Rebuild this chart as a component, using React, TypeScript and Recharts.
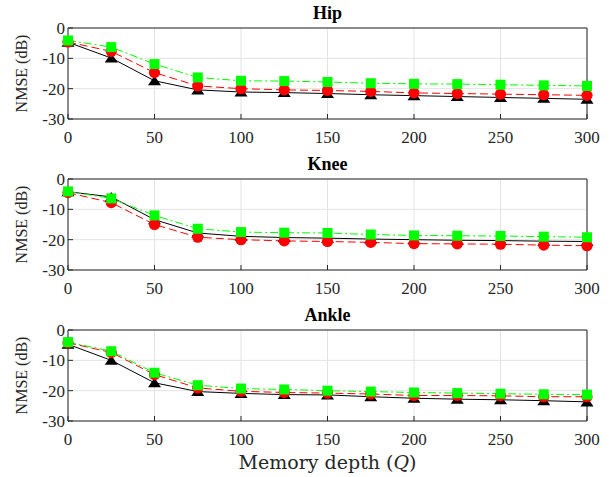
import React from "react";
import { LineChart, Line, XAxis, YAxis, CartesianGrid, ReferenceArea } from "recharts";

// memory depth Q
const depth = [0, 25, 50, 75, 100, 125, 150, 175, 200, 225, 250, 275, 300];
const xTicks = [0, 50, 100, 150, 200, 250, 300];
const yTicks = [-30, -20, -10, 0];

// NMSE (dB), solid black / dashed red / dash-dot green
const hipSolid = [-4.7, -9.9, -17.4, -20.4, -21.1, -21.3, -21.6, -22.0, -22.3, -22.6, -22.9, -23.2, -23.5];
const hipDashed = [-4.6, -7.7, -14.7, -19.1, -20.0, -20.4, -20.6, -20.9, -21.4, -21.6, -21.8, -22.0, -22.2];
const hipDashDot = [-4.1, -6.3, -11.9, -16.3, -17.4, -17.5, -17.8, -18.2, -18.4, -18.5, -18.7, -18.9, -19.1];

const kneeSolid = [-4.2, -5.9, -13.4, -17.8, -18.9, -19.3, -19.5, -19.8, -20.0, -20.2, -20.3, -20.5, -20.6];
const kneeDashed = [-4.5, -7.8, -15.0, -19.2, -20.0, -20.4, -20.6, -20.9, -21.3, -21.4, -21.5, -21.8, -22.0];
const kneeDashDot = [-4.1, -6.4, -12.0, -16.4, -17.5, -17.7, -17.8, -18.3, -18.6, -18.7, -18.8, -19.0, -19.2];

const ankleSolid = [-4.7, -10.0, -17.4, -20.3, -20.9, -21.3, -21.4, -22.0, -22.5, -22.8, -23.0, -23.3, -23.7];
const ankleDashed = [-4.2, -7.4, -14.7, -19.1, -20.2, -20.6, -20.8, -21.1, -21.6, -21.6, -21.7, -22.0, -22.0];
const ankleDashDot = [-4.0, -7.0, -14.1, -18.2, -19.3, -19.6, -20.0, -20.3, -20.6, -20.8, -21.0, -21.2, -21.3];

const FONT = '"Liberation Serif", "Times New Roman", serif';
const TXT = "#262626";

const Tri = (p: any) => {
  const { cx, cy, index } = p;
  if (cx == null || cy == null) return <g key={index} />;
  return <path key={index} d={`M${cx},${cy - 5} L${cx + 6.5},${cy + 4.5} L${cx - 6.5},${cy + 4.5} Z`} fill="#000" />;
};
const Dot = (p: any) => {
  const { cx, cy, index } = p;
  if (cx == null || cy == null) return <g key={index} />;
  return <circle key={index} cx={cx} cy={cy} r={5.6} fill="#ff0000" />;
};
const Sq = (p: any) => {
  const { cx, cy, index } = p;
  if (cx == null || cy == null) return <g key={index} />;
  return <rect key={index} x={cx - 5} y={cy - 5} width={10} height={10} fill="#00ff00" />;
};

function Panel({ title, top, solid, dashed, dashDot }: { title: string; top: number; solid: number[]; dashed: number[]; dashDot: number[] }) {
  const data = depth.map((q, i) => ({ q, solid: solid[i], dashed: dashed[i], dashDot: dashDot[i] }));
  return (
    <div style={{ position: "absolute", left: 0, top, width: 615, height: 150, fontFamily: FONT }}>
      <div style={{ position: "absolute", left: 68, width: 519, top: 2, textAlign: "center", fontWeight: "bold", fontSize: 18, color: "#000", lineHeight: "22px" }}>
        {title}
      </div>
      <LineChart width={615} height={150} data={data} margin={{ top: 28, right: 28, bottom: 0, left: 0 }} style={{ fontFamily: FONT }}>
        <CartesianGrid stroke="#e3e3e3" strokeWidth={1} />
        <XAxis
          dataKey="q"
          type="number"
          domain={[0, 300]}
          ticks={xTicks}
          height={31}
          axisLine={false}
          tickSize={-5}
          tickMargin={17}
          tickLine={{ stroke: TXT }}
          tick={{ fontSize: 17, fill: TXT, style: { fontFamily: FONT } }}
          interval={0}
        />
        <YAxis
          type="number"
          domain={[-30, 0]}
          ticks={yTicks}
          width={68}
          axisLine={false}
          tickSize={-5}
          tickMargin={8}
          tickLine={{ stroke: TXT }}
          tick={{ fontSize: 17, fill: TXT, style: { fontFamily: FONT } }}
          interval={0}
          label={{ value: "NMSE (dB)", angle: -90, position: "insideLeft", offset: 0, dx: 21, fontSize: 16, fill: TXT, style: { textAnchor: "middle", fontFamily: FONT } }}
        />
        <ReferenceArea x1={0} x2={300} y1={-30} y2={0} fill="none" stroke={TXT} strokeWidth={1} ifOverflow="visible" />
        <Line dataKey="solid" stroke="#000" strokeWidth={1} dot={Tri} isAnimationActive={false} />
        <Line dataKey="dashed" stroke="#ff0000" strokeWidth={1} strokeDasharray="8 4" dot={Dot} isAnimationActive={false} />
        <Line dataKey="dashDot" stroke="#00ff00" strokeWidth={1} strokeDasharray="8 3 2 3" dot={Sq} isAnimationActive={false} />
      </LineChart>
    </div>
  );
}

export default function App() {
  return (
    <div style={{ position: "absolute", left: 0, top: 0, width: 615, height: 477, background: "#fff", overflow: "hidden" }}>
      <Panel title="Hip" top={0} solid={hipSolid} dashed={hipDashed} dashDot={hipDashDot} />
      <Panel title="Knee" top={151} solid={kneeSolid} dashed={kneeDashed} dashDot={kneeDashDot} />
      <Panel title="Ankle" top={302} solid={ankleSolid} dashed={ankleDashed} dashDot={ankleDashDot} />
      <div style={{ position: "absolute", left: 68, width: 519, top: 449, textAlign: "center", fontFamily: '"DejaVu Serif", "Liberation Serif", serif', fontSize: 19, color: TXT, lineHeight: "26px" }}>
        Memory depth (<i>Q</i>)
      </div>
    </div>
  );
}
